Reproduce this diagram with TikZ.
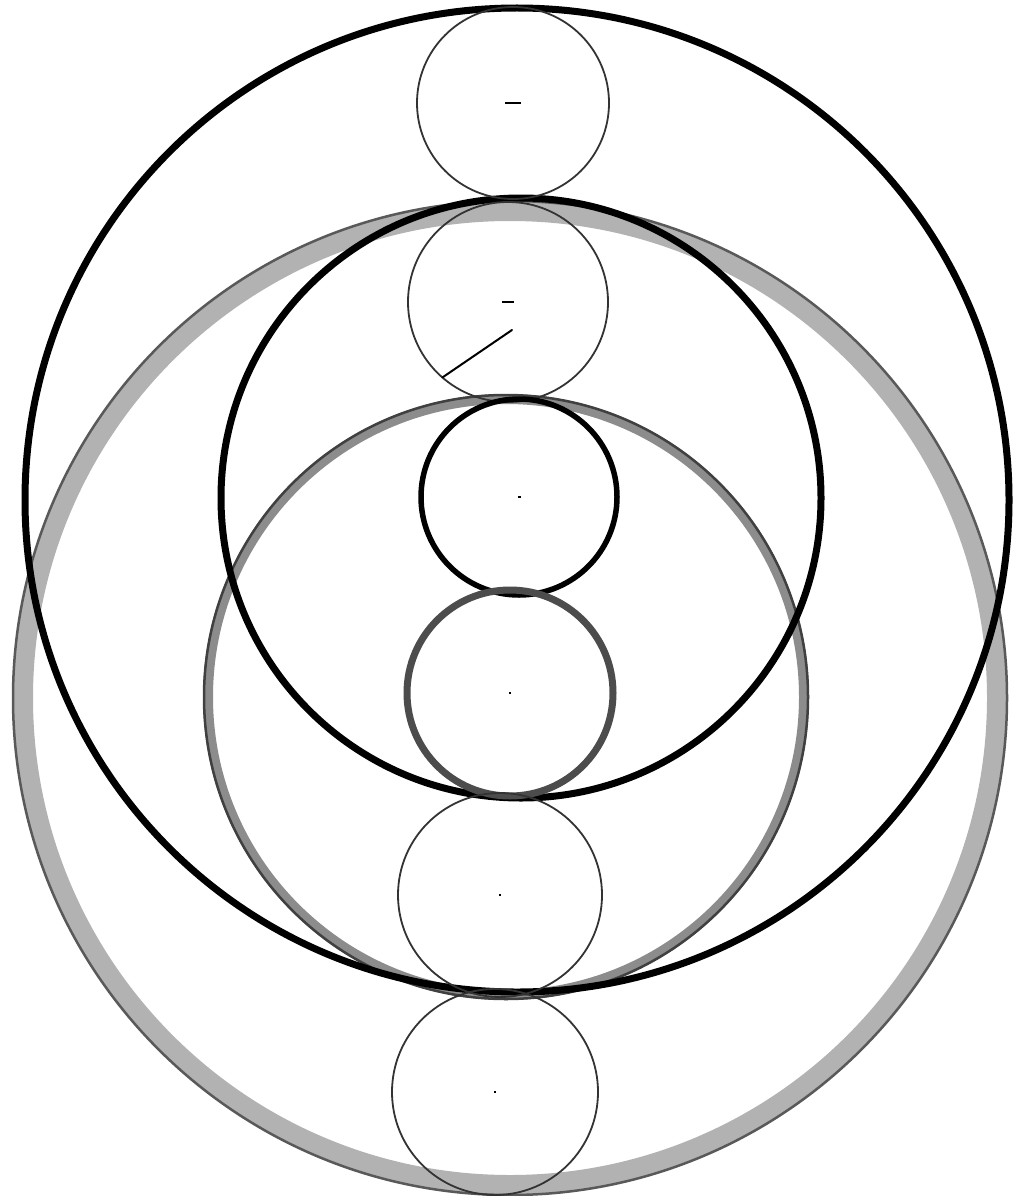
\documentclass[tikz,border=0pt]{standalone}
\begin{document}
\begin{tikzpicture}[x=1pt,y=-1pt,
  ring/.style={circle,draw,inner sep=0pt,outer sep=0pt},
  darkring/.style={ring,draw=black,line width=7pt},
  grayring/.style={ring,draw=black!30,line width=20pt},
  grayedge/.style={ring,draw=black!65,line width=2.5pt},
  midgray/.style={ring,draw=black!45,line width=10pt},
  midedge/.style={ring,draw=black!75,line width=2.5pt},
  thinring/.style={ring,draw=black!80,line width=1.8pt},
  thickring/.style={ring,draw=black,line width=5.5pt},
  texring/.style={ring,draw=black!70,line width=7pt},
  cmark/.style={fill=black,inner sep=0pt,minimum width=3pt,minimum height=2pt}]
\useasboundingbox[fill=white] (0,0) rectangle (1017,1196);
% big circles
\node[grayring,minimum size=974pt] (G) at (510,698) {};
\node[grayedge,minimum size=994pt] (Ge) at (510,698) {};
\node[midgray,minimum size=596pt] (M2) at (506,697) {};
\node[midedge,minimum size=604pt] (M2e) at (506,697) {};
\node[darkring,minimum size=984pt] (O) at (517,500) {};
\node[darkring,minimum size=600pt] (M1) at (521,498) {};
% small circles
\node[thinring,minimum size=192pt] (s1) at (513,103) {};
\node[thinring,minimum size=200pt] (s2) at (508,302) {};
\node[thickring,minimum size=196pt] (s3) at (519,497) {};
\node[texring,minimum size=206pt] (s4) at (510,693) {};
\node[thinring,minimum size=204pt] (s5) at (500,895) {};
\node[thinring,minimum size=206pt] (s6) at (495,1092) {};
% centre marks
\node[cmark,minimum width=16pt] (m1) at (s1.center) {};
\node[cmark,minimum width=12pt] (m2) at (s2.center) {};
\node[cmark] (m3) at (s3.center) {};
\node[cmark,minimum width=2pt] (m4) at (s4.center) {};
\node[cmark,minimum width=2pt] (m5) at (s5.center) {};
\node[cmark,minimum width=2pt] (m6) at (s6.center) {};
% radius line
\coordinate (r0) at (512,330);
\draw[line width=2pt,line cap=round] (r0) -- (s2.229);
\end{tikzpicture}
\end{document}
